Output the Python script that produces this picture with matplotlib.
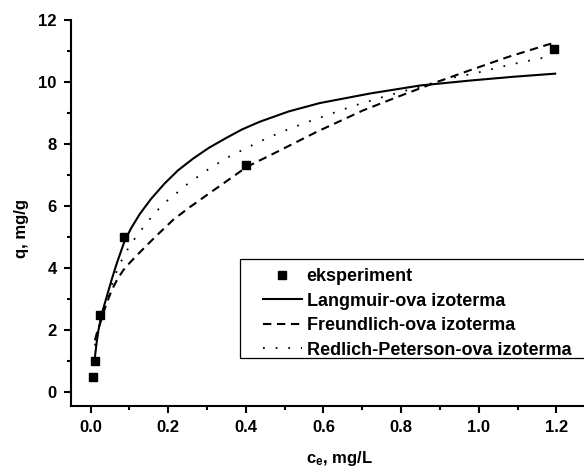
import matplotlib
matplotlib.use("Agg")
import matplotlib.pyplot as plt
from matplotlib.patches import Rectangle
from matplotlib.ticker import MultipleLocator

plt.rcParams["font.family"] = ["Liberation Sans", "DejaVu Sans"]
plt.rcParams["font.weight"] = "bold"
plt.rcParams["mathtext.default"] = "regular"

# experimental points
c_exp = [0.007, 0.011, 0.023, 0.086, 0.400, 1.195]
q_exp = [0.50, 1.00, 2.48, 5.00, 7.31, 11.05]

# model curves
c_lang = [0.011, 0.015, 0.020, 0.030, 0.041, 0.054, 0.067, 0.088, 0.105, 0.127, 0.155,
          0.190, 0.225, 0.264, 0.305, 0.350, 0.390, 0.436, 0.510, 0.590, 0.720, 0.850,
          0.980, 1.090, 1.197]
q_lang = [1.13, 1.55, 1.99, 2.58, 3.06, 3.62, 4.14, 4.89, 5.30, 5.75, 6.22,
          6.72, 7.15, 7.53, 7.88, 8.20, 8.47, 8.72, 9.05, 9.32, 9.63, 9.89,
          10.05, 10.17, 10.27]

c_freu = [0.011, 0.017, 0.024, 0.038, 0.054, 0.068, 0.084, 0.103, 0.123, 0.166, 0.213,
          0.255, 0.299, 0.350, 0.402, 0.479, 0.582, 0.703, 0.797, 0.892, 0.982, 1.076, 1.166, 1.190]
q_freu = [1.67, 1.95, 2.20, 2.75, 3.28, 3.62, 3.93, 4.20, 4.46, 5.00, 5.56,
          5.96, 6.35, 6.80, 7.26, 7.74, 8.39, 9.09, 9.55, 10.00, 10.40, 10.81, 11.16, 11.25]

c_rp = [0.011, 0.018, 0.025, 0.035, 0.045, 0.058, 0.070, 0.086, 0.101, 0.123, 0.160,
        0.190, 0.220, 0.243, 0.299, 0.350, 0.406, 0.462, 0.514, 0.570, 0.677, 0.754,
        0.831, 0.922, 1.003, 1.081, 1.162, 1.190]
q_rp = [1.50, 1.95, 2.35, 2.75, 3.10, 3.58, 4.00, 4.40, 4.73, 5.11, 5.70,
        6.10, 6.40, 6.65, 7.15, 7.55, 7.90, 8.23, 8.50, 8.76, 9.23, 9.52,
        9.79, 10.11, 10.32, 10.56, 10.77, 10.83]

labels = ["eksperiment", "Langmuir-ova izoterma", "Freundlich-ova izoterma",
          "Redlich-Peterson-ova izoterma"]

fig = plt.figure(figsize=(5.84, 4.72), dpi=100)
# right side of the original plot is cut off, so the axes run past the figure edge
ax = fig.add_axes([0.121, 0.1398, 0.922, 0.8178])

ax.plot(c_exp, q_exp, "s", color="black", markersize=5.3, linestyle="none", label=labels[0])
ax.plot(c_lang, q_lang, "-", color="black", lw=1.5, label=labels[1])
ax.plot(c_freu, q_freu, color="black", lw=1.5, linestyle=(0, (4, 2.7)), label=labels[2])
ax.plot(c_rp, q_rp, color="black", lw=1.3, linestyle=(0, (1, 6)), label=labels[3])

ax.set_xlim(-0.0515, 1.336)
ax.set_ylim(-0.45, 12)
ax.xaxis.set_minor_locator(MultipleLocator(0.1))
ax.yaxis.set_major_locator(MultipleLocator(2))
ax.yaxis.set_minor_locator(MultipleLocator(1))
ax.set_xticks([0.0, 0.2, 0.4, 0.6, 0.8, 1.0, 1.2])
ax.set_xticklabels(["0.0", "0.2", "0.4", "0.6", "0.8", "1.0", "1.2"])

for side in ["top", "right"]:
    ax.spines[side].set_visible(False)
for side in ["left", "bottom"]:
    ax.spines[side].set_linewidth(1.5)
ax.tick_params(which="major", direction="out", length=5, width=1.5, labelsize=12, pad=5)
ax.tick_params(which="minor", direction="out", length=3, width=1.5)

ax.set_xlabel("c$_e$, mg/L", fontsize=12, fontweight="bold", labelpad=10)
ax.set_ylabel("q, mg/g", fontsize=12, fontweight="bold")
ax.yaxis.set_label_coords(-0.078, 0.461)

ax.add_patch(Rectangle((0.3145, 0.125), 0.8, 0.255, transform=ax.transAxes,
                       fill=False, edgecolor="black", lw=0.9, zorder=3))
ax.legend(loc="upper left", bbox_to_anchor=(0.3505, 0.367), frameon=False,
          fontsize=13, handlelength=2.15, handletextpad=0.26, labelspacing=0.42,
          borderaxespad=0, borderpad=0.2)

fig.savefig("out.png", dpi=100)
